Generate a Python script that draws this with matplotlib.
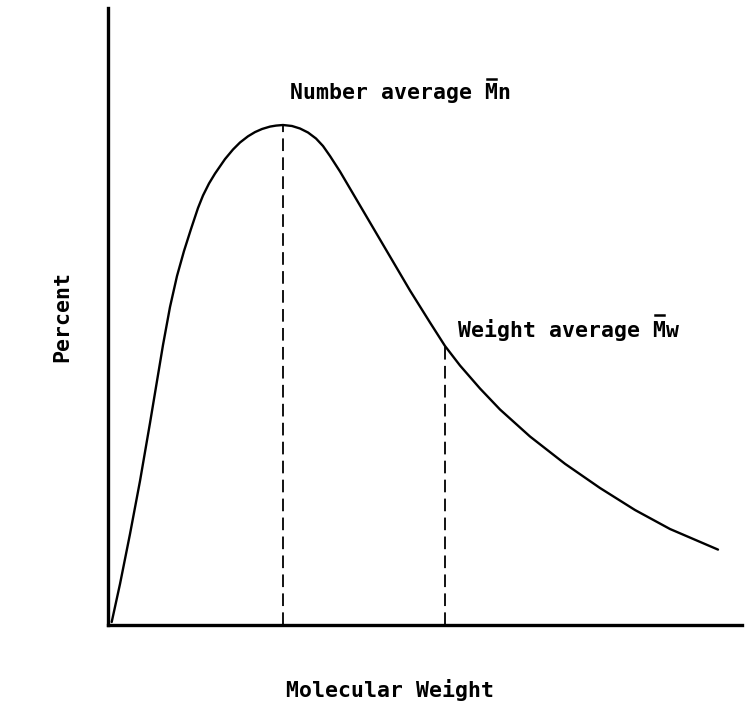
import numpy as np
import matplotlib
matplotlib.use("Agg")
import matplotlib.pyplot as plt
from matplotlib.lines import Line2D
from matplotlib.transforms import IdentityTransform

# Distribution curve (arbitrary units: molecular weight vs percent)
mw = [3.7, 12, 22, 32, 42, 50, 55, 62, 69, 76, 83, 90, 95, 101, 107, 117, 125, 132,
      140, 147, 154, 162, 168, 175, 184, 192, 200, 208, 215, 222, 232, 242, 262, 282,
      302, 322, 337, 352, 372, 392, 422, 457, 492, 527, 562, 610]
pct = [3, 41, 91, 144, 202, 250, 280, 318, 349, 374, 396, 417, 429.5, 441.5, 451.4,
       465.9, 475.5, 482.5, 488.7, 492.9, 496, 498.4, 499.4, 500, 499, 496.5, 492.5,
       486.5, 479, 469, 453.5, 436.5, 402.5, 368.5, 334.5, 302.5, 279, 259.5, 236.5,
       215.5, 188.5, 161.2, 137, 115, 96, 75.4]

# Averages
mn_x, mn_y = 175, 500
mw_x, mw_y = 337, 279

label_mn = "Number average Mn"
label_mw = "Weight average Mw"

fig = plt.figure(figsize=(7.53, 7.06), dpi=100)
ax = fig.add_axes([108/753, 81/706, (742-108)/753, (706-81-8)/706])
ax.set_xlim(0, 634)
ax.set_ylim(0, 617)

ax.plot(mw, pct, color="black", lw=1.7, solid_capstyle="round", solid_joinstyle="round")
ax.plot([mn_x, mn_x], [0, mn_y], color="black", lw=1.3, dashes=(7, 3.5))
ax.plot([mw_x, mw_x], [0, mw_y], color="black", lw=1.3, dashes=(7, 3.5))

for s in ["top", "right"]:
    ax.spines[s].set_visible(False)
for s in ["left", "bottom"]:
    ax.spines[s].set_linewidth(2.4)
ax.set_xticks([])
ax.set_yticks([])

font = dict(family="DejaVu Sans Mono", fontweight="bold", fontsize=15.5)
t1 = ax.text(182, 532, label_mn, ha="left", va="center", **font)
t2 = ax.text(350, 295, label_mw, ha="left", va="center", **font)
ax.set_xlabel("Molecular Weight", **font)
ax.xaxis.set_label_coords((390 - 108) / 634, -(690 - 625) / 617)
ax.xaxis.label.set_va("center")
ax.set_ylabel("Percent", labelpad=26, **font)

# Overbars above the M of Mn and Mw
fig.canvas.draw()
renderer = fig.canvas.get_renderer()
for t in (t1, t2):
    s = t.get_text()
    bb = t.get_window_extent(renderer)
    cw = bb.width / len(s)
    i = s.rindex("M")
    x0 = bb.x0 + i * cw + 0.15 * cw
    x1 = bb.x0 + (i + 1) * cw - 0.15 * cw
    y = bb.y1 + 4
    fig.add_artist(Line2D([x0, x1], [y, y], transform=IdentityTransform(),
                          color="black", lw=1.8))

fig.savefig("out.png", dpi=100)
